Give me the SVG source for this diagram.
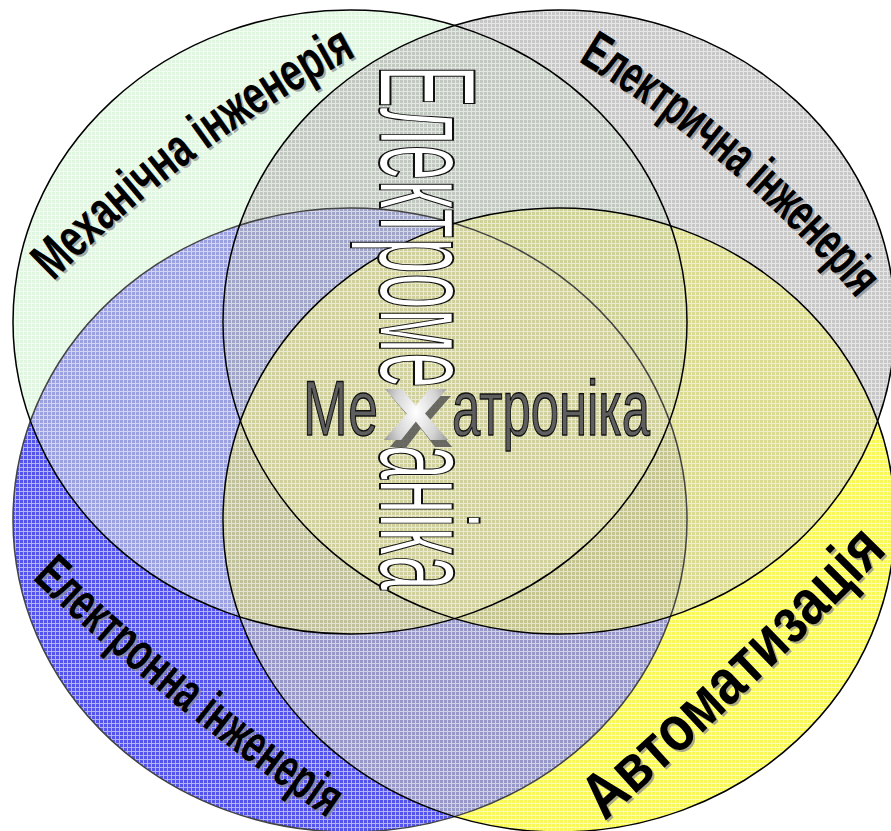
<svg xmlns="http://www.w3.org/2000/svg" xmlns:xlink="http://www.w3.org/1999/xlink" width="891" height="831" viewBox="0 0 891 831">
  <style>
    .rim { fill: none; stroke: #000; stroke-width: 1.5; }
    .lbl { font-family: "Liberation Sans Narrow", "Liberation Sans", Arial, sans-serif; font-weight: bold; }
    .shadow { fill: #8a8a8a; opacity: 0.7; }
    .ink { fill: #000; }
    .core { font-family: "Liberation Sans Narrow", "Liberation Sans", Arial, sans-serif; font-size: 78px; fill: #5e5e5e; stroke: #111; stroke-width: 1.4; }
    .vert { font-family: "Liberation Sans Narrow", "Liberation Sans", Arial, sans-serif; font-size: 138px; fill: #fff; stroke: #111; stroke-width: 2; }
  </style>
  <defs>
    <!-- field shapes -->
    <ellipse id="shMech" cx="350" cy="322" rx="337" ry="312"/>
    <ellipse id="shElec" cx="559" cy="322" rx="336" ry="312"/>
    <ellipse id="shTron" cx="350" cy="520" rx="337" ry="312"/>
    <ellipse id="shAuto" cx="559" cy="520" rx="336" ry="312"/>

    <clipPath id="cMech"><use href="#shMech" xlink:href="#shMech"/></clipPath>
    <clipPath id="cElec"><use href="#shElec" xlink:href="#shElec"/></clipPath>
    <clipPath id="cTron"><use href="#shTron" xlink:href="#shTron"/></clipPath>
    <clipPath id="cAuto"><use href="#shAuto" xlink:href="#shAuto"/></clipPath>
    <clipPath id="cAll">
      <use href="#shMech" xlink:href="#shMech"/>
      <use href="#shElec" xlink:href="#shElec"/>
      <use href="#shTron" xlink:href="#shTron"/>
      <use href="#shAuto" xlink:href="#shAuto"/>
    </clipPath>

    <!-- fine white mesh laid over the fills -->
    <pattern id="mesh" width="4" height="4" patternUnits="userSpaceOnUse">
      <rect x="3" width="1" height="4" fill="#fff"/>
      <rect y="3" width="4" height="1" fill="#fff"/>
    </pattern>

    <radialGradient id="chrome" cx="0.5" cy="0.55" r="0.6">
      <stop offset="0" stop-color="#ffffff"/>
      <stop offset="0.55" stop-color="#d4d4d4"/>
      <stop offset="1" stop-color="#8c8c8c"/>
    </radialGradient>

    <!-- label baselines -->
    <path id="arcMech" d="M40,268 Q177,129 350,38"/>
    <path id="arcElec" d="M588,45 Q753,145 874,290"/>
    <path id="arcTron" d="M45,565 Q184,697 342,805"/>
    <path id="arcAuto" d="M590,805 Q740,672 876,532"/>
  </defs>

  <rect width="891" height="831" fill="#fff"/>

  <!-- single fields -->
  <g id="field-electronic"><use href="#shTron" xlink:href="#shTron" fill="#5454ec"/></g>
  <g id="field-automation"><use href="#shAuto" xlink:href="#shAuto" fill="#f8f858"/></g>
  <g id="field-mechanical"><use href="#shMech" xlink:href="#shMech" fill="#e1f6e1"/></g>
  <g id="field-electrical"><use href="#shElec" xlink:href="#shElec" fill="#c7c7c7"/></g>

  <!-- overlaps of two fields -->
  <g id="overlaps">
    <g clip-path="url(#cMech)"><use href="#shElec" xlink:href="#shElec" fill="#c0c8c0"/></g>
    <g clip-path="url(#cMech)"><use href="#shTron" xlink:href="#shTron" fill="#9aa0e0"/></g>
    <g clip-path="url(#cMech)"><use href="#shAuto" xlink:href="#shAuto" fill="#cfd296"/></g>
    <g clip-path="url(#cElec)"><use href="#shAuto" xlink:href="#shAuto" fill="#dada90"/></g>
    <g clip-path="url(#cElec)"><use href="#shTron" xlink:href="#shTron" fill="#a0a5c8"/></g>
    <g clip-path="url(#cTron)"><use href="#shAuto" xlink:href="#shAuto" fill="#9898c8"/></g>

    <!-- overlaps of three fields -->
    <g clip-path="url(#cMech)"><g clip-path="url(#cElec)"><use href="#shTron" xlink:href="#shTron" fill="#a0a5c8"/></g></g>
    <g clip-path="url(#cMech)"><g clip-path="url(#cElec)"><use href="#shAuto" xlink:href="#shAuto" fill="#cfd296"/></g></g>
    <g clip-path="url(#cMech)"><g clip-path="url(#cTron)"><use href="#shAuto" xlink:href="#shAuto" fill="#c0c09a"/></g></g>
    <g clip-path="url(#cElec)"><g clip-path="url(#cTron)"><use href="#shAuto" xlink:href="#shAuto" fill="#c4c48e"/></g></g>

    <!-- common core -->
    <g clip-path="url(#cMech)"><g clip-path="url(#cElec)"><g clip-path="url(#cTron)"><use href="#shAuto" xlink:href="#shAuto" fill="#d0d09c"/></g></g></g>
  </g>

  <rect id="mesh-overlay" width="891" height="831" fill="url(#mesh)" opacity="0.55" clip-path="url(#cAll)"/>

  <!-- outlines -->
  <g id="outlines">
    <use class="rim" href="#shTron" xlink:href="#shTron" style="stroke:#444"/>
    <use class="rim" href="#shAuto" xlink:href="#shAuto"/>
    <use class="rim" href="#shMech" xlink:href="#shMech"/>
    <use class="rim" href="#shElec" xlink:href="#shElec"/>
  </g>

  <!-- curved field labels -->
  <g id="label-mechanical" class="lbl" font-size="54">
    <text class="shadow" transform="translate(2,2)" dominant-baseline="central"><textPath xlink:href="#arcMech" href="#arcMech" textLength="385" lengthAdjust="spacingAndGlyphs">Механічна інженерія</textPath></text>
    <text class="ink" dominant-baseline="central"><textPath xlink:href="#arcMech" href="#arcMech" textLength="385" lengthAdjust="spacingAndGlyphs">Механічна інженерія</textPath></text>
  </g>
  <g id="label-electrical" class="lbl" font-size="54">
    <text class="shadow" transform="translate(2,2)" dominant-baseline="central"><textPath xlink:href="#arcElec" href="#arcElec" textLength="374" lengthAdjust="spacingAndGlyphs">Електрична інженерія</textPath></text>
    <text class="ink" dominant-baseline="central"><textPath xlink:href="#arcElec" href="#arcElec" textLength="374" lengthAdjust="spacingAndGlyphs">Електрична інженерія</textPath></text>
  </g>
  <g id="label-electronic" class="lbl" font-size="54">
    <text class="shadow" transform="translate(2,2)" dominant-baseline="central"><textPath xlink:href="#arcTron" href="#arcTron" textLength="378" lengthAdjust="spacingAndGlyphs">Електронна інженерія</textPath></text>
    <text class="ink" dominant-baseline="central"><textPath xlink:href="#arcTron" href="#arcTron" textLength="378" lengthAdjust="spacingAndGlyphs">Електронна інженерія</textPath></text>
  </g>
  <g id="label-automation" class="lbl" font-size="64">
    <text class="shadow" transform="translate(2,2)" dominant-baseline="central"><textPath xlink:href="#arcAuto" href="#arcAuto" textLength="390" lengthAdjust="spacingAndGlyphs">Автоматизація</textPath></text>
    <text class="ink" dominant-baseline="central"><textPath xlink:href="#arcAuto" href="#arcAuto" textLength="390" lengthAdjust="spacingAndGlyphs">Автоматизація</textPath></text>
  </g>

  <!-- vertical word, sharing its letter х with the horizontal one -->
  <g id="label-electromechanics">
    <text class="vert" transform="translate(380,65) rotate(90)" textLength="323" lengthAdjust="spacingAndGlyphs">Електроме</text>
    <text class="vert" transform="translate(380,445) rotate(90)" textLength="145" lengthAdjust="spacingAndGlyphs">аніка</text>
  </g>

  <!-- central word -->
  <g id="label-mechatronics">
    <text class="core" x="303" y="435" textLength="75" lengthAdjust="spacingAndGlyphs">Ме</text>
    <text class="core" x="452" y="435" textLength="198" lengthAdjust="spacingAndGlyphs">атроніка</text>
    <text x="389" y="447" font-family="'Liberation Sans', Arial, sans-serif" font-weight="bold" font-size="96" fill="#555" opacity="0.85" textLength="64" lengthAdjust="spacingAndGlyphs">х</text>
    <text x="383" y="440" font-family="'Liberation Sans', Arial, sans-serif" font-weight="bold" font-size="96" fill="url(#chrome)" textLength="66" lengthAdjust="spacingAndGlyphs">х</text>
  </g>
</svg>
